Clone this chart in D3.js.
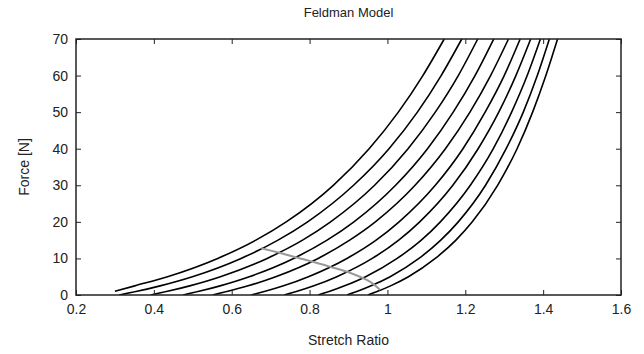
<!DOCTYPE html>
<html><head><meta charset="utf-8">
<script src="https://cdn.jsdelivr.net/npm/d3@7"></script>
<style>body{margin:0;background:#fff}svg{display:block}text{font-family:"Liberation Sans",Arial,sans-serif;fill:#222}</style>
</head><body><svg id="c" width="644" height="354"></svg>
<script>
const xTicks = [0.2,0.4,0.6,0.8,1.0,1.2,1.4,1.6];
const xTickLabels = ["0.2","0.4","0.6","0.8","1","1.2","1.4","1.6"];
const yTicks = [0,10,20,30,40,50,60,70];
// Force levels (N) at which each curve's stretch ratio was read
const forceLevels = [0,1,2.5,5,10,15,20,30,40,50,60,70];
// Stretch ratio of each curve at those force levels
const curve1  = [null,0.300,0.351,0.435,0.564,0.662,0.740,0.861,0.953,1.028,1.091,1.146];
const curve2  = [0.311,0.357,0.416,0.499,0.624,0.719,0.795,0.913,1.004,1.077,1.138,1.191];
const curve3  = [0.392,0.435,0.492,0.571,0.691,0.782,0.854,0.967,1.053,1.123,1.182,1.232];
const curve4  = [0.475,0.516,0.570,0.645,0.759,0.845,0.914,1.021,1.103,1.169,1.225,1.273];
const curve5  = [0.551,0.590,0.642,0.713,0.822,0.903,0.969,1.071,1.149,1.212,1.265,1.311];
const curve6  = [0.650,0.686,0.733,0.797,0.896,0.971,1.030,1.123,1.194,1.251,1.300,1.341];
const curve7  = [0.735,0.768,0.811,0.870,0.961,1.029,1.083,1.168,1.233,1.286,1.330,1.368];
const curve8  = [0.822,0.852,0.890,0.944,1.025,1.087,1.136,1.213,1.272,1.319,1.359,1.393];
const curve9  = [0.896,0.923,0.958,1.007,1.081,1.137,1.182,1.252,1.305,1.349,1.385,1.416];
const curve10 = [0.950,0.975,1.008,1.054,1.123,1.176,1.218,1.283,1.333,1.373,1.407,1.437];
// Grey trace: [stretch ratio, force]
const grayLine = [[0.676,12.8],[0.72,11.6],[0.776,10.0],[0.853,7.7],[0.91,5.8],[0.956,3.6],[0.981,1.4]];
const curves = [curve1,curve2,curve3,curve4,curve5,curve6,curve7,curve8,curve9,curve10];

const svg = d3.select("#c");
const L=76, R=621, T=39, B=295;
const x = d3.scaleLinear().domain([0.2,1.6]).range([L,R]);
const y = d3.scaleLinear().domain([0,70]).range([B,T]);

svg.append("defs").append("clipPath").attr("id","clip").append("rect")
  .attr("x",L).attr("y",T-1).attr("width",R-L).attr("height",B-T+1);

const line = d3.line().defined(d=>d[0]!=null).x(d=>x(d[0])).y(d=>y(d[1])).curve(d3.curveMonotoneX);
const g = svg.append("g").attr("clip-path","url(#clip)");
g.selectAll("path.c").data(curves.map(c=>c.map((s,i)=>[s,forceLevels[i]]).filter(d=>d[0]!=null)))
  .join("path").attr("class","c")
  .attr("d",line).attr("fill","none").attr("stroke","#000").attr("stroke-width",1.6);
g.append("path").datum(grayLine).attr("d",line.curve(d3.curveCatmullRom)).attr("fill","none").attr("stroke","#999").attr("stroke-width",2);

const tickLen = 5;
const bx = svg.append("g").attr("transform",`translate(0,${B})`).call(d3.axisBottom(x).tickValues(xTicks).tickFormat((d,i)=>xTickLabels[i]).tickSizeInner(-tickLen).tickSizeOuter(0).tickPadding(9));
const tx = svg.append("g").attr("transform",`translate(0,${T})`).call(d3.axisTop(x).tickValues(xTicks).tickFormat("").tickSizeInner(-tickLen).tickSizeOuter(0));
const ly = svg.append("g").attr("transform",`translate(${L},0)`).call(d3.axisLeft(y).tickValues(yTicks).tickSizeInner(-tickLen).tickSizeOuter(0).tickPadding(8));
const ry = svg.append("g").attr("transform",`translate(${R},0)`).call(d3.axisRight(y).tickValues(yTicks).tickFormat("").tickSizeInner(-tickLen).tickSizeOuter(0));
[bx,tx,ly,ry].forEach(a=>{a.select(".domain").remove();a.selectAll("line").attr("stroke","#222").attr("stroke-width",1);a.selectAll("text").style("font-size","14px").attr("fill","#222");});
svg.append("rect").attr("x",L).attr("y",T).attr("width",R-L).attr("height",B-T).attr("fill","none").attr("stroke","#222").attr("stroke-width",1.5);

svg.append("text").attr("x",(L+R)/2).attr("y",17).attr("text-anchor","middle").style("font-size","13px").text("Feldman Model");
svg.append("text").attr("x",(L+R)/2).attr("y",345).attr("text-anchor","middle").style("font-size","14px").text("Stretch Ratio");
svg.append("text").attr("transform",`translate(29,${(T+B)/2}) rotate(-90)`).attr("text-anchor","middle").style("font-size","14px").text("Force [N]");
</script></body></html>
